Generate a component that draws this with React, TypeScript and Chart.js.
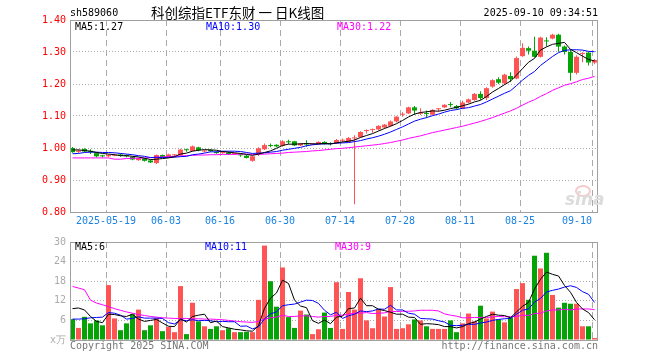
import React, { useEffect, useRef } from 'react';
import { Chart, registerables } from 'chart.js';

Chart.register(...registerables);

// ---------- data ----------
const dates = [
  '05-09','05-12','05-13','05-14','05-15','05-16','05-19','05-20','05-21','05-22','05-23','05-26','05-27','05-28','05-29','05-30',
  '06-03','06-04','06-05','06-06','06-09','06-10','06-11','06-12','06-13','06-16','06-17','06-18','06-19','06-20','06-23','06-24','06-25','06-26','06-27','06-30',
  '07-01','07-02','07-03','07-04','07-07','07-08','07-09','07-10','07-11','07-14','07-15','07-16','07-17','07-18','07-21','07-22','07-23','07-24','07-25','07-28','07-29','07-30','07-31',
  '08-01','08-04','08-05','08-06','08-07','08-08','08-11','08-12','08-13','08-14','08-15','08-18','08-19','08-20','08-21','08-22','08-25','08-26','08-27','08-28','08-29',
  '09-01','09-02','09-03','09-04','09-05','09-08','09-09','09-10'
];
const tickDates = ['05-19','06-03','06-16','06-30','07-14','07-28','08-11','08-25','09-10'];
const tickLabels = ['2025-05-19','06-03','06-16','06-30','07-14','07-28','08-11','08-25','09-10'];
const priceTicks = [0.8, 0.9, 1.0, 1.1, 1.2, 1.3, 1.4];
const volTicks = [0, 6, 12, 18, 24, 30];

const open = [1.000,0.988,0.997,0.990,0.984,0.975,0.974,0.976,0.980,0.977, 0.972,0.962,0.967,0.961,0.953,0.978,0.972,0.977,0.977,0.994, 0.991,1.002,0.989,0.994,0.988,0.984,0.986,0.981,0.980,0.976, 0.960,0.981,0.996,1.008,1.010,1.007,1.020,1.021,1.008,1.013, 1.011,1.012,1.019,1.013,1.015,1.023,1.019,1.030,1.034,1.053, 1.056,1.058,1.064,1.069,1.083,1.104,1.108,1.127,1.107,1.107, 1.104,1.121,1.127,1.136,1.131,1.123,1.142,1.150,1.169,1.156, 1.192,1.215,1.202,1.225,1.217,1.287,1.312,1.304,1.285,1.335, 1.342,1.354,1.317,1.300,1.235,1.294,1.298,1.267];
const high = [1.003,0.995,0.999,0.996,0.986,0.979,0.981,0.982,0.983,0.980, 0.974,0.970,0.969,0.963,0.980,0.980,0.982,0.981,0.998,0.998, 1.008,1.004,0.994,0.997,0.991,0.989,0.988,0.986,0.983,0.978, 0.976,1.002,1.014,1.014,1.012,1.024,1.026,1.022,1.016,1.024, 1.015,1.021,1.021,1.018,1.028,1.030,1.034,1.040,1.052,1.058, 1.061,1.071,1.075,1.086,1.099,1.112,1.129,1.131,1.124,1.117, 1.121,1.125,1.137,1.144,1.134,1.148,1.155,1.172,1.177,1.190, 1.215,1.221,1.232,1.237,1.286,1.327,1.317,1.348,1.348,1.346, 1.357,1.357,1.320,1.306,1.290,1.299,1.301,1.278];
const low = [0.985,0.984,0.987,0.981,0.970,0.970,0.972,0.974,0.973,0.971, 0.962,0.960,0.958,0.953,0.950,0.970,0.970,0.974,0.975,0.988, 0.990,0.990,0.986,0.988,0.982,0.982,0.978,0.979,0.973,0.967, 0.957,0.975,0.994,1.002,1.002,1.004,1.012,1.006,1.006,1.004, 1.009,1.010,1.010,1.008,1.013,1.018,1.017,0.824,1.032,1.045, 1.048,1.055,1.060,1.067,1.080,1.098,1.106,1.103,1.103,1.094, 1.102,1.114,1.125,1.127,1.120,1.121,1.140,1.148,1.150,1.150, 1.188,1.200,1.198,1.206,1.215,1.285,1.292,1.283,1.283,1.317, 1.340,1.301,1.292,1.210,1.230,1.268,1.258,1.262];
const close = [0.987,0.992,0.989,0.988,0.974,0.974,0.978,0.979,0.976,0.974, 0.964,0.968,0.960,0.955,0.978,0.972,0.980,0.979,0.995,0.993, 1.005,0.993,0.991,0.990,0.984,0.987,0.981,0.984,0.977,0.969, 0.974,0.999,1.009,1.006,1.005,1.021,1.018,1.008,1.014,1.011, 1.013,1.019,1.012,1.012,1.025,1.026,1.031,1.033,1.050,1.055, 1.058,1.069,1.073,1.083,1.098,1.106,1.127,1.117,1.109,1.106, 1.119,1.123,1.135,1.134,1.124,1.142,1.152,1.169,1.156,1.187, 1.212,1.204,1.229,1.215,1.281,1.313,1.304,1.285,1.345,1.333, 1.354,1.317,1.300,1.235,1.285,1.297,1.267,1.275];

const ma5 = [0.994,0.994,0.992,0.990,0.986,0.983,0.981,0.979,0.976,0.976, 0.974,0.972,0.968,0.964,0.965,0.967,0.969,0.973,0.981,0.984, 0.990,0.993,0.995,0.994,0.993,0.989,0.987,0.985,0.983,0.980, 0.977,0.981,0.986,0.991,0.999,1.008,1.012,1.012,1.013,1.014, 1.013,1.013,1.014,1.013,1.016,1.019,1.021,1.025,1.033,1.039, 1.045,1.053,1.061,1.068,1.076,1.086,1.097,1.106,1.111,1.113, 1.116,1.115,1.118,1.123,1.127,1.132,1.137,1.144,1.149,1.161, 1.175,1.186,1.198,1.209,1.228,1.248,1.268,1.280,1.306,1.316, 1.324,1.327,1.330,1.308,1.298,1.287,1.277,1.272];
const ma10 = [0.982,0.983,0.986,0.987,0.987,0.986,0.986,0.985,0.983,0.981, 0.979,0.976,0.974,0.970,0.971,0.970,0.971,0.971,0.973,0.974, 0.979,0.981,0.984,0.988,0.988,0.990,0.990,0.990,0.989,0.986, 0.983,0.984,0.985,0.987,0.989,0.993,0.996,0.999,1.002,1.007, 1.010,1.012,1.013,1.013,1.015,1.016,1.017,1.020,1.023,1.028, 1.032,1.037,1.043,1.050,1.058,1.066,1.075,1.084,1.090,1.095, 1.101,1.106,1.112,1.117,1.120,1.124,1.126,1.131,1.136,1.144, 1.153,1.162,1.171,1.179,1.195,1.212,1.227,1.239,1.258,1.272, 1.286,1.298,1.305,1.307,1.307,1.306,1.302,1.301];
const ma30 = [0.969,0.969,0.969,0.969,0.969,0.969,0.969,0.965,0.965,0.967, 0.968,0.968,0.969,0.970,0.971,0.972,0.973,0.974,0.975,0.976, 0.977,0.978,0.978,0.979,0.979,0.980,0.980,0.980,0.981,0.981, 0.980,0.980,0.981,0.982,0.983,0.984,0.986,0.987,0.988,0.989, 0.991,0.992,0.994,0.996,0.998,0.999,1.001,1.003,1.005,1.007, 1.009,1.011,1.014,1.017,1.021,1.025,1.030,1.034,1.038,1.043, 1.048,1.052,1.056,1.060,1.064,1.068,1.073,1.078,1.083,1.089, 1.095,1.102,1.109,1.116,1.124,1.134,1.143,1.151,1.161,1.170, 1.180,1.188,1.196,1.201,1.207,1.214,1.218,1.224];

const volume = [6.4,3.7,7.1,5.1,6.0,4.5,16.8,6.6,3.0,5.1, 7.9,9.3,3.0,4.5,6.7,2.7,4.0,2.4,16.5,1.8, 11.4,5.7,4.2,3.4,4.2,3.0,3.6,2.4,2.4,2.5, 2.4,12.3,28.9,18.0,10.2,22.2,7.0,3.7,9.0,7.8, 1.8,3.3,8.4,3.7,17.7,3.4,14.7,9.3,18.9,6.0, 3.6,9.3,7.2,16.2,3.4,3.6,4.8,6.3,6.0,4.2, 3.4,3.4,3.4,6.0,2.4,5.1,8.1,5.7,10.5,6.6, 8.7,6.3,5.4,6.9,15.6,17.4,12.3,25.8,21.9,26.7, 13.8,9.9,11.4,11.1,11.1,4.2,4.2,0.6];
const vma5 = [9.6,9.8,9.2,7.2,5.7,5.3,7.9,7.8,7.4,7.2, 7.9,6.4,5.7,6.0,6.3,5.2,4.2,4.1,6.5,5.5, 7.2,7.6,7.9,5.3,5.8,4.1,3.7,3.3,3.1,2.8, 2.7,4.4,9.7,12.8,14.4,18.3,17.3,12.2,10.4,9.9, 5.9,5.1,6.1,5.0,7.0,7.3,9.6,9.8,12.8,10.5, 10.5,9.4,9.0,8.5,7.9,7.9,7.0,6.9,4.8,5.0, 4.9,4.7,4.1,4.1,3.7,4.1,5.0,5.5,6.4,7.2, 7.9,7.6,7.5,6.8,8.6,10.3,11.5,15.6,18.6,20.8, 20.1,19.6,16.7,14.6,11.5,9.5,8.4,6.2];
const vma10 = [6.4,6.4,6.5,6.8,6.9,7.0,8.4,8.2,7.6,6.4, 6.6,7.1,6.7,6.7,6.7,6.6,5.3,4.9,6.2,5.9, 6.2,5.9,6.0,5.9,5.6,5.7,5.6,5.6,4.2,4.3, 3.4,4.0,6.5,8.0,8.6,10.5,10.8,11.0,11.6,12.2, 12.1,11.2,9.1,7.7,8.5,6.6,7.4,7.9,8.9,8.7, 8.9,9.5,9.4,10.6,9.2,9.2,8.2,7.9,6.6,6.5, 6.4,5.9,5.5,4.5,4.4,4.5,4.8,4.8,5.2,5.5, 6.0,6.3,6.5,6.6,7.9,9.1,9.5,11.6,12.7,14.7, 15.2,15.6,16.2,16.6,16.1,14.8,14.0,11.5];
const vma30 = [16.4,15.9,15.4,12.2,11.3,10.8,10.2,9.6,9.1,8.6, 8.2,7.8,7.5,7.2,7.0,6.8,6.7,6.6,6.6,6.6, 6.5,6.5,6.4,6.4,6.3,6.2,6.0,5.8,5.6,5.5, 5.4,5.7,6.4,6.8,7.0,7.6,7.2,7.2,7.4,7.4, 7.2,7.0,7.2,7.2,7.6,7.6,7.9,8.2,8.2,8.4, 8.1,8.2,8.3,8.8,8.7,8.8,8.8,8.9,9.1,9.1, 9.1,8.9,8.0,7.6,7.3,6.8,6.8,6.9,6.9,6.9, 7.1,7.2,7.1,7.2,7.2,7.6,7.5,8.1,8.2,8.9, 9.2,9.2,9.4,9.2,9.5,9.5,9.5,9.3];

// ---------- style ----------
const RED = '#ff5454';
const GREEN = '#05a305';
const MONO = '"DejaVu Sans Mono", "Liberation Mono", monospace';
const DATE_COLOR = '#1a82e2';
const GRID = '#aaaaaa';
const OFF = 2.5 / 6;

const tickIdx = tickDates.map((d) => dates.indexOf(d));
const candleColor = close.map((c, i) => (c >= open[i] ? RED : GREEN));

const boxPlugin = {
  id: 'box',
  afterDraw(chart: any) {
    const { ctx, chartArea: a } = chart;
    ctx.save();
    ctx.strokeStyle = '#a0a0a0';
    ctx.lineWidth = 1;
    ctx.setLineDash([]);
    ctx.strokeRect(Math.round(a.left) + 0.5, Math.round(a.top) + 0.5, Math.round(a.right - a.left) - 1, Math.round(a.bottom - a.top));
    ctx.restore();
  },
};

const lineDs = (label: string, data: number[], color: string) => ({
  type: 'line' as const,
  label,
  data: data.map((v, i) => ({ x: i + OFF, y: v })),
  borderColor: color,
  borderWidth: 1,
  pointRadius: 0,
  tension: 0,
  fill: false,
});

const xScale = (showLabels: boolean) => ({
  type: 'linear',
  min: 0,
  max: dates.length,
  offset: false,
  afterBuildTicks: (s: any) => {
    s.ticks = tickIdx.map((v) => ({ value: v }));
  },
  afterFit: (s: any) => {
    s.height = showLabels ? 20 : 0;
  },
  ticks: {
    display: showLabels,
    autoSkip: false,
    maxRotation: 0,
    padding: 3,
    color: DATE_COLOR,
    font: { family: MONO, size: 10 },
    // the last label ends at its grid line (padded with spaces so it stays inside the frame)
    callback: (_v: any, i: number) =>
      i === tickLabels.length - 1 ? tickLabels[i] + ' '.repeat(tickLabels[i].length) : tickLabels[i],
  },
  grid: { color: GRID, lineWidth: 1, drawTicks: false, offset: false },
  border: { display: false, dash: [6, 4] },
});

export default function App() {
  const priceRef = useRef<HTMLCanvasElement>(null);
  const volRef = useRef<HTMLCanvasElement>(null);

  useEffect(() => {
    const price = new Chart(priceRef.current as HTMLCanvasElement, {
      type: 'bar',
      data: {
        datasets: [
          lineDs('MA5', ma5, '#000000'),
          lineDs('MA10', ma10, '#0000ff'),
          lineDs('MA30', ma30, '#ff00ff'),
          {
            type: 'bar',
            label: 'body',
            data: open.map((o, i) => ({ x: i + OFF, y: [o, close[i]] })) as any,
            backgroundColor: candleColor,
            barThickness: 5,
            minBarLength: 1,
            grouped: false,
            borderWidth: 0,
            inflateAmount: 0,
          } as any,
          {
            type: 'bar',
            label: 'wick',
            data: low.map((l, i) => ({ x: i + OFF, y: [l, high[i]] })) as any,
            backgroundColor: candleColor,
            barThickness: 1,
            minBarLength: 1,
            grouped: false,
            borderWidth: 0,
            inflateAmount: 0,
          } as any,
        ],
      },
      options: {
        animation: false,
        responsive: false,
        devicePixelRatio: 1,
        events: [],
        layout: { padding: { top: 20, right: 62, left: 0, bottom: 0 } },
        plugins: { legend: { display: false }, tooltip: { enabled: false } },
        scales: {
          x: xScale(true) as any,
          y: {
            min: priceTicks[0],
            max: priceTicks[priceTicks.length - 1],
            afterBuildTicks: (s: any) => {
              s.ticks = priceTicks.map((v) => ({ value: v }));
            },
            afterFit: (s: any) => {
              s.width = 70;
            },
            ticks: {
              color: '#ff0000',
              padding: 4,
              font: { family: MONO, size: 10 },
              callback: (v: any) => Number(v).toFixed(2),
            },
            grid: {
              color: (c: any) => (c.index === 0 || c.index === priceTicks.length - 1 ? 'rgba(0,0,0,0)' : GRID),
              drawTicks: false,
            },
            border: { display: false, dash: [1, 2] },
          } as any,
        },
      },
      plugins: [boxPlugin],
    });

    const vol = new Chart(volRef.current as HTMLCanvasElement, {
      type: 'bar',
      data: {
        datasets: [
          lineDs('MA5', vma5, '#000000'),
          lineDs('MA10', vma10, '#0000ff'),
          lineDs('MA30', vma30, '#ff00ff'),
          {
            type: 'bar',
            label: 'vol',
            data: volume.map((v, i) => ({ x: i + OFF, y: v })) as any,
            backgroundColor: candleColor,
            barThickness: 5,
            grouped: false,
            borderWidth: 0,
            inflateAmount: 0,
          } as any,
        ],
      },
      options: {
        animation: false,
        responsive: false,
        devicePixelRatio: 1,
        events: [],
        layout: { padding: { top: 8, right: 62, left: 0, bottom: 20 } },
        plugins: { legend: { display: false }, tooltip: { enabled: false } },
        scales: {
          x: xScale(false) as any,
          y: {
            min: volTicks[0],
            max: volTicks[volTicks.length - 1],
            afterBuildTicks: (s: any) => {
              s.ticks = volTicks.map((v) => ({ value: v }));
            },
            afterFit: (s: any) => {
              s.width = 70;
            },
            ticks: {
              color: '#aaaaaa',
              padding: 4,
              font: { family: MONO, size: 10 },
              callback: (v: any) => (Number(v) === 0 ? 'x万' : String(v)),
            },
            grid: {
              color: (c: any) => (c.index === 0 || c.index === volTicks.length - 1 ? 'rgba(0,0,0,0)' : GRID),
              drawTicks: false,
            },
            border: { display: false, dash: [1, 2] },
          } as any,
        },
      },
      plugins: [boxPlugin],
    });

    return () => {
      price.destroy();
      vol.destroy();
    };
  }, []);

  const txt = (extra: React.CSSProperties): React.CSSProperties => ({
    position: 'absolute',
    fontFamily: MONO,
    fontSize: 10,
    lineHeight: '12px',
    whiteSpace: 'nowrap',
    ...extra,
  });

  return (
    <div style={{ position: 'absolute', left: 0, top: 0, width: 660, height: 360, background: '#fff', overflow: 'hidden' }}>
      <canvas ref={priceRef} width={660} height={232} style={{ position: 'absolute', left: 0, top: 0, width: 660, height: 232 }} />
      <canvas ref={volRef} width={660} height={128} style={{ position: 'absolute', left: 0, top: 232, width: 660, height: 128 }} />

      <div style={txt({ left: 70, top: 7, color: '#000' })}>sh589060</div>
      <div style={txt({ left: 151, top: 5, color: '#000', fontFamily: '"Noto Sans CJK SC", sans-serif', fontSize: 13.5, lineHeight: '15px' })}>
        科创综指ETF东财 一 日K线图
      </div>
      <div style={txt({ right: 62, top: 7, color: '#000' })}>2025-09-10 09:34:51</div>

      <div style={txt({ left: 75, top: 21, color: '#000' })}>MA5:1.27</div>
      <div style={txt({ left: 206, top: 21, color: '#0000ff' })}>MA10:1.30</div>
      <div style={txt({ left: 337, top: 21, color: '#ff00ff' })}>MA30:1.22</div>

      <div style={txt({ left: 75, top: 241, color: '#000' })}>MA5:6</div>
      <div style={txt({ left: 205, top: 241, color: '#0000ff' })}>MA10:11</div>
      <div style={txt({ left: 335, top: 241, color: '#ff00ff' })}>MA30:9</div>

      <div style={{ position: 'absolute', left: 575, top: 185, width: 12, height: 8, borderRadius: '50%', border: '2px solid #f4caca' }} />
      <div style={{ position: 'absolute', left: 565, top: 190, fontFamily: '"DejaVu Sans", sans-serif', fontStyle: 'italic', fontWeight: 'bold', fontSize: 17, lineHeight: '18px', color: '#dcdcdc' }}>sina</div>

      <div style={txt({ left: 70, top: 340, color: '#777' })}>Copyright 2025 SINA.COM</div>
      <div style={txt({ right: 62, top: 340, color: '#777' })}>http://finance.sina.com.cn</div>
    </div>
  );
}
